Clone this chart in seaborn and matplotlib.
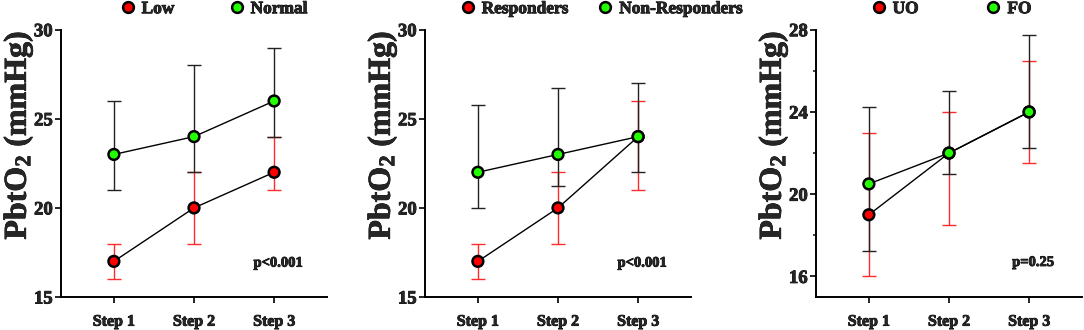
import numpy as np
import pandas as pd
import matplotlib
matplotlib.use("Agg")
import matplotlib.pyplot as plt
import matplotlib.patheffects as pe
import seaborn as sns

steps = ["Step 1", "Step 2", "Step 3"]

# Panel 1
p1_groups = ["Low", "Normal"]
p1_low = [17, 20, 22]
p1_low_lo = [16, 18, 21]
p1_low_hi = [18, 22, 24]
p1_norm = [23, 24, 26]
p1_norm_lo = [21, 22, 24]
p1_norm_hi = [26, 28, 29]

# Panel 2
p2_groups = ["Responders", "Non-Responders"]
p2_resp = [17, 20, 24]
p2_resp_lo = [16, 18, 21]
p2_resp_hi = [18, 22, 26]
p2_nonr = [22, 23, 24]
p2_nonr_lo = [20, 21.25, 22]
p2_nonr_hi = [25.75, 26.75, 27]

# Panel 3
p3_groups = ["UO", "FO"]
p3_uo = [19, 22, 24]
p3_uo_lo = [16, 18.5, 21.5]
p3_uo_hi = [23, 24, 26.5]
p3_fo = [20.5, 22, 24]
p3_fo_lo = [17.25, 21, 22.25]
p3_fo_hi = [24.25, 25, 27.75]

p_texts = ["p<0.001", "p<0.001", "p=0.25"]

sns.set_style("ticks")
plt.rcParams["font.family"] = ["Liberation Serif", "DejaVu Serif"]
plt.rcParams["font.weight"] = "bold"
plt.rcParams["mathtext.fontset"] = "custom"
plt.rcParams["mathtext.rm"] = "Liberation Serif:bold"
plt.rcParams["mathtext.bf"] = "Liberation Serif:bold"
plt.rcParams["mathtext.it"] = "Liberation Serif:bold"

RED = "#FF0000"
GREEN = "#22FF00"
ERR_RED = "#FF2a2a"
heavy = [pe.withStroke(linewidth=0.6, foreground="black")]

fig = plt.figure(figsize=(10.84, 3.30), dpi=100)
W, H = 1084, 330
lefts = [61, 425, 816]
width_px = 266
bottom = 1 - 297 / H
height = 267.3 / H

panels = [
    (p1_groups, p1_low, p1_low_lo, p1_low_hi, p1_norm, p1_norm_lo, p1_norm_hi, (15, 30), [15, 20, 25, 30], []),
    (p2_groups, p2_resp, p2_resp_lo, p2_resp_hi, p2_nonr, p2_nonr_lo, p2_nonr_hi, (15, 30), [15, 20, 25, 30], []),
    (p3_groups, p3_uo, p3_uo_lo, p3_uo_hi, p3_fo, p3_fo_lo, p3_fo_hi, (15, 28), [16, 20, 24, 28], [18, 22, 26]),
]
leg_x = [0.218, 0.128, 0.203]
colspace = [3.1, 1.6, 3.8]
ptext_y = [16.9, 16.9, 16.68]

for i, (groups, a, alo, ahi, b, blo, bhi, ylim, yt, ymin) in enumerate(panels):
    ax = fig.add_axes([lefts[i] / W, bottom, width_px / W, height])
    pos = np.arange(len(steps))
    df = pd.DataFrame({
        "pos": np.concatenate([pos, pos]),
        "val": a + b,
        "group": [groups[0]] * 3 + [groups[1]] * 3,
    })
    a_arr = np.array(a); b_arr = np.array(b)
    ax.errorbar(pos, a_arr, yerr=[a_arr - np.array(alo), np.array(ahi) - a_arr],
                fmt="none", ecolor=ERR_RED, elinewidth=1.0, capsize=4.8, capthick=1.0, zorder=2)
    ax.errorbar(pos, b_arr, yerr=[b_arr - np.array(blo), np.array(bhi) - b_arr],
                fmt="none", ecolor="#222222", elinewidth=1.0, capsize=4.8, capthick=1.0, zorder=3)
    sns.lineplot(data=df, x="pos", y="val", units="group", estimator=None,
                 color="black", linewidth=1.0, ax=ax, zorder=4)
    sns.scatterplot(data=df, x="pos", y="val", hue="group", palette=[RED, GREEN],
                    s=60, edgecolor="black", linewidth=1.8, ax=ax, zorder=5)
    handles, labels = ax.get_legend_handles_labels()
    leg = ax.legend(handles, labels, ncol=2, loc="center left", bbox_to_anchor=(leg_x[i], 1.077),
                    frameon=False, borderaxespad=0, borderpad=0, handlelength=1.0,
                    handletextpad=0.3, columnspacing=colspace[i],
                    prop={"family": "Liberation Serif", "weight": "bold", "size": 12.5})
    for t in leg.get_texts():
        t.set_path_effects(heavy)
    ax.set_xlim(-0.66, 2.66)
    ax.set_ylim(*ylim)
    ax.set_xticks(pos)
    ax.set_xticklabels(steps)
    ax.set_yticks(yt)
    if ymin:
        ax.set_yticks(ymin, minor=True)
    ax.tick_params(axis="both", which="major", length=4, width=1.2, pad=2, color="black")
    ax.tick_params(axis="x", which="major", labelsize=11.5, pad=8)
    ax.tick_params(axis="y", which="major", labelsize=13.5)
    ax.tick_params(axis="y", which="minor", length=2.5, width=1.2)
    for lab in ax.get_xticklabels() + ax.get_yticklabels():
        lab.set_fontweight("bold")
        lab.set_path_effects(heavy)
    ax.set_xlabel("")
    ax.set_ylabel("PbtO$_2$ (mmHg)", fontsize=23, fontweight="bold")
    ax.yaxis.set_label_coords(-(61 - 18) / width_px, (297 - 135) / 267.3)
    ax.yaxis.label.set_verticalalignment("center")
    ax.yaxis.label.set_path_effects([pe.withStroke(linewidth=0.5, foreground="black")])
    for s in ["top", "right"]:
        ax.spines[s].set_visible(False)
    for s in ["left", "bottom"]:
        ax.spines[s].set_linewidth(1.4)
        ax.spines[s].set_color("black")
    ax.text(2.05, ptext_y[i], p_texts[i], ha="center", va="center", fontsize=10.5,
            fontweight="bold", path_effects=heavy)

fig.savefig("out.png", dpi=100)
